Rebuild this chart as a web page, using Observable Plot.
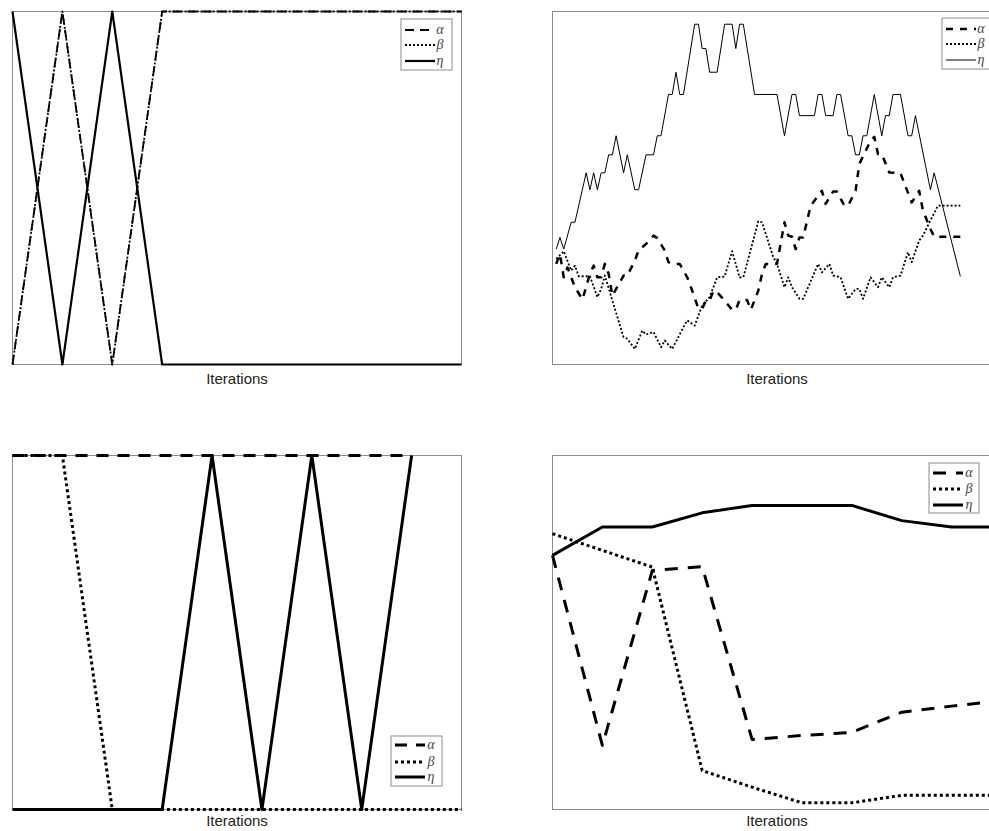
<!DOCTYPE html>
<html><head><meta charset="utf-8">
<script src="https://cdn.jsdelivr.net/npm/d3@7"></script>
<script src="https://cdn.jsdelivr.net/npm/@observablehq/plot@0.6"></script>
<style>
html,body{margin:0;padding:0;background:#fff;overflow:hidden}
#wrap{position:relative;width:989px;height:831px;overflow:hidden;background:#fff}
</style></head><body><div id="wrap"></div>
<script>
// ---------- data ----------
const seriesNames = ["α", "β", "η"];
const xLabel = "Iterations";

// Panel 1 (top-left)
const p1X     = [1,2,3,4,5,6,7,8,9,10];
const p1Alpha = [0,1,0,1,1,1,1,1,1,1];
const p1Beta  = [0,1,0,1,1,1,1,1,1,1];
const p1Eta   = [1,0,1,0,0,0,0,0,0,0];

// Panel 2 (top-right) – random walk, vertices of each series
const p2EtaX = [1,2,3,5,6,9,10,11,12,13,14,15,16,17,19,20,22,23,25,27,28,29,31,32,33,34,35,38,39,40,41,42,44,46,48,49,50,51,54,60,62,64,65,66,70,71,72,73,75,76,77,79,80,81,82,83,84,86,88,89,90,91,93,95,96,97,101,102,109];
const p2EtaY = [0.327,0.36,0.327,0.403,0.403,0.543,0.495,0.543,0.495,0.543,0.543,0.594,0.594,0.648,0.543,0.594,0.495,0.495,0.594,0.594,0.648,0.648,0.765,0.765,0.828,0.765,0.765,0.964,0.964,0.895,0.895,0.828,0.828,0.964,0.964,0.895,0.964,0.964,0.765,0.765,0.648,0.765,0.765,0.705,0.705,0.765,0.765,0.705,0.705,0.765,0.765,0.648,0.648,0.594,0.594,0.648,0.648,0.765,0.648,0.705,0.705,0.765,0.765,0.648,0.648,0.705,0.495,0.543,0.25];
const p2AlphaX = [1,2,3,4,5,6,8,10,11,12,13,14,15,16,19,20,22,23,26,27,28,30,31,32,34,36,37,39,40,41,42,43,44,46,48,49,50,52,53,55,56,57,60,62,63,64,65,66,67,69,72,73,75,76,78,79,81,82,85,86,87,88,90,93,96,98,99,101,102,109];
const p2AlphaY = [0.285,0.313,0.247,0.275,0.247,0.219,0.184,0.257,0.28,0.247,0.247,0.285,0.257,0.195,0.252,0.252,0.294,0.323,0.351,0.365,0.358,0.323,0.29,0.285,0.285,0.247,0.219,0.158,0.158,0.181,0.181,0.209,0.205,0.181,0.155,0.155,0.183,0.183,0.155,0.209,0.257,0.285,0.285,0.403,0.365,0.362,0.327,0.36,0.36,0.45,0.492,0.455,0.49,0.49,0.45,0.45,0.492,0.568,0.634,0.645,0.596,0.596,0.544,0.542,0.459,0.492,0.436,0.384,0.362,0.362];
const p2BetaX = [1,3,5,6,7,10,12,13,14,16,19,20,22,24,25,27,29,30,32,35,36,38,40,42,44,46,48,50,51,55,56,59,60,62,63,64,66,67,71,72,74,75,77,79,81,82,83,85,87,88,90,91,93,95,96,98,99,101,103,109];
const p2BetaY = [0.299,0.321,0.266,0.28,0.25,0.25,0.191,0.214,0.252,0.181,0.077,0.073,0.044,0.096,0.085,0.092,0.049,0.068,0.044,0.106,0.125,0.11,0.167,0.191,0.247,0.249,0.321,0.247,0.247,0.406,0.403,0.304,0.285,0.219,0.247,0.219,0.186,0.186,0.285,0.261,0.285,0.252,0.247,0.186,0.214,0.214,0.186,0.247,0.219,0.247,0.219,0.247,0.252,0.318,0.29,0.351,0.365,0.408,0.45,0.45];

// Panel 3 (bottom-left)
const p3AlphaX = [1,2,3,4,5,6,7,8,9];
const p3Alpha  = [1,1,1,1,1,1,1,1,1];
const p3BetaX  = [1,2,3,4,5,6,7,8,9,10];
const p3Beta   = [1,1,0,0,0,0,0,0,0,0];
const p3EtaX   = [1,2,3,4,5,6,7,8,9];
const p3Eta    = [0,0,0,0,1,0,1,0,1];

// Panel 4 (bottom-right)
const p4X     = [1,2,3,4,5,6,7,8,9,10];
const p4Alpha = [0.718,0.181,0.675,0.686,0.198,0.209,0.218,0.275,0.292,0.307];
const p4Beta  = [0.779,0.732,0.685,0.110,0.063,0.019,0.019,0.040,0.040,0.040];
const p4Eta   = [0.718,0.798,0.798,0.838,0.859,0.859,0.859,0.816,0.798,0.798];

// ---------- helpers ----------
const rows = (xs, ys) => xs.map((x, i) => ({x, y: ys[i]}));
const wrap = document.getElementById("wrap");

function panel(cfg) {
  const marks = [Plot.frame({stroke: "#8c8c8c", strokeWidth: 1})];
  for (const s of cfg.series) {
    marks.push(Plot.line(s.data, {
      x: "x", y: "y", stroke: "#000", strokeWidth: s.w,
      strokeDasharray: s.dash || null, strokeLinecap: "butt"
    }));
  }
  marks.push(Plot.text([xLabel], {
    frameAnchor: "bottom", dy: cfg.labelDy, fontSize: 15, fill: "#222",
    fontFamily: "'Liberation Sans', Arial, sans-serif"
  }));
  const svg = Plot.plot({
    width: cfg.width, height: cfg.height,
    marginTop: cfg.mt, marginBottom: cfg.mb, marginLeft: cfg.ml, marginRight: cfg.mr,
    x: {domain: cfg.xDomain, axis: null},
    y: {domain: [0, 1], axis: null},
    style: {background: "transparent", overflow: "visible"},
    marks
  });
  svg.style.position = "absolute";
  svg.style.left = cfg.left + "px";
  svg.style.top = cfg.top + "px";

  // legend box
  const L = cfg.legend;
  const g = d3.select(svg).append("g");
  g.append("rect").attr("x", L.bx).attr("y", L.by).attr("width", L.w).attr("height", L.h)
    .attr("fill", "#fff").attr("stroke", "#8c8c8c").attr("stroke-width", 1);
  cfg.series.forEach((s, i) => {
    const y = L.by + L.off[i];
    g.append("line").attr("x1", L.bx + 4).attr("x2", L.bx + 34).attr("y1", y).attr("y2", y)
      .attr("stroke", "#000").attr("stroke-width", s.w)
      .attr("stroke-dasharray", s.dash || null);
    g.append("text").attr("x", L.bx + L.tx).attr("y", y).attr("dy", "0.32em")
      .attr("font-family", "'Liberation Serif', 'DejaVu Serif', serif")
      .attr("font-style", "italic").attr("font-size", 14).attr("fill", "#444")
      .text(seriesNames[i]);
  });
  wrap.appendChild(svg);
}

// Panel 1
panel({
  left: 0, top: 0, width: 470, height: 390, mt: 11, mb: 26, ml: 12, mr: 9, labelDy: 19,
  xDomain: [1, 10],
  series: [
    {data: rows(p1X, p1Alpha), w: 1.8, dash: "9,6"},
    {data: rows(p1X, p1Beta),  w: 1.8, dash: "2,2"},
    {data: rows(p1X, p1Eta),   w: 2.2}
  ],
  legend: {bx: 401, by: 19, w: 51, h: 51, off: [11, 26, 42], tx: 39}
});

// Panel 2
panel({
  left: 540, top: 0, width: 470, height: 390, mt: 11, mb: 26, ml: 12, mr: 9, labelDy: 19,
  xDomain: [0, 120],
  series: [
    {data: rows(p2AlphaX, p2AlphaY), w: 2.5, dash: "7,7"},
    {data: rows(p2BetaX, p2BetaY),   w: 1.8, dash: "2,2"},
    {data: rows(p2EtaX, p2EtaY),     w: 1}
  ],
  legend: {bx: 402, by: 18, w: 51, h: 51, off: [11, 26, 42], tx: 39}
});

// Panel 3
panel({
  left: 0, top: 440, width: 470, height: 391, mt: 15, mb: 22, ml: 12, mr: 9, labelDy: 16,
  xDomain: [1, 10],
  series: [
    {data: rows(p3AlphaX, p3Alpha), w: 3, dash: "12,9"},
    {data: rows(p3BetaX, p3Beta),   w: 3, dash: "3,3"},
    {data: rows(p3EtaX, p3Eta),     w: 3}
  ],
  legend: {bx: 391, by: 296, w: 51, h: 50, off: [9, 26, 41], tx: 40}
});

// Panel 4
panel({
  left: 540, top: 440, width: 470, height: 391, mt: 15, mb: 22, ml: 12, mr: 9, labelDy: 16,
  xDomain: [1, 10],
  series: [
    {data: rows(p4X, p4Alpha), w: 3, dash: "13,10"},
    {data: rows(p4X, p4Beta),  w: 3, dash: "3,3"},
    {data: rows(p4X, p4Eta),   w: 3}
  ],
  legend: {bx: 389, by: 23, w: 50, h: 50, off: [10, 26, 42], tx: 40}
});
</script>
</body></html>
